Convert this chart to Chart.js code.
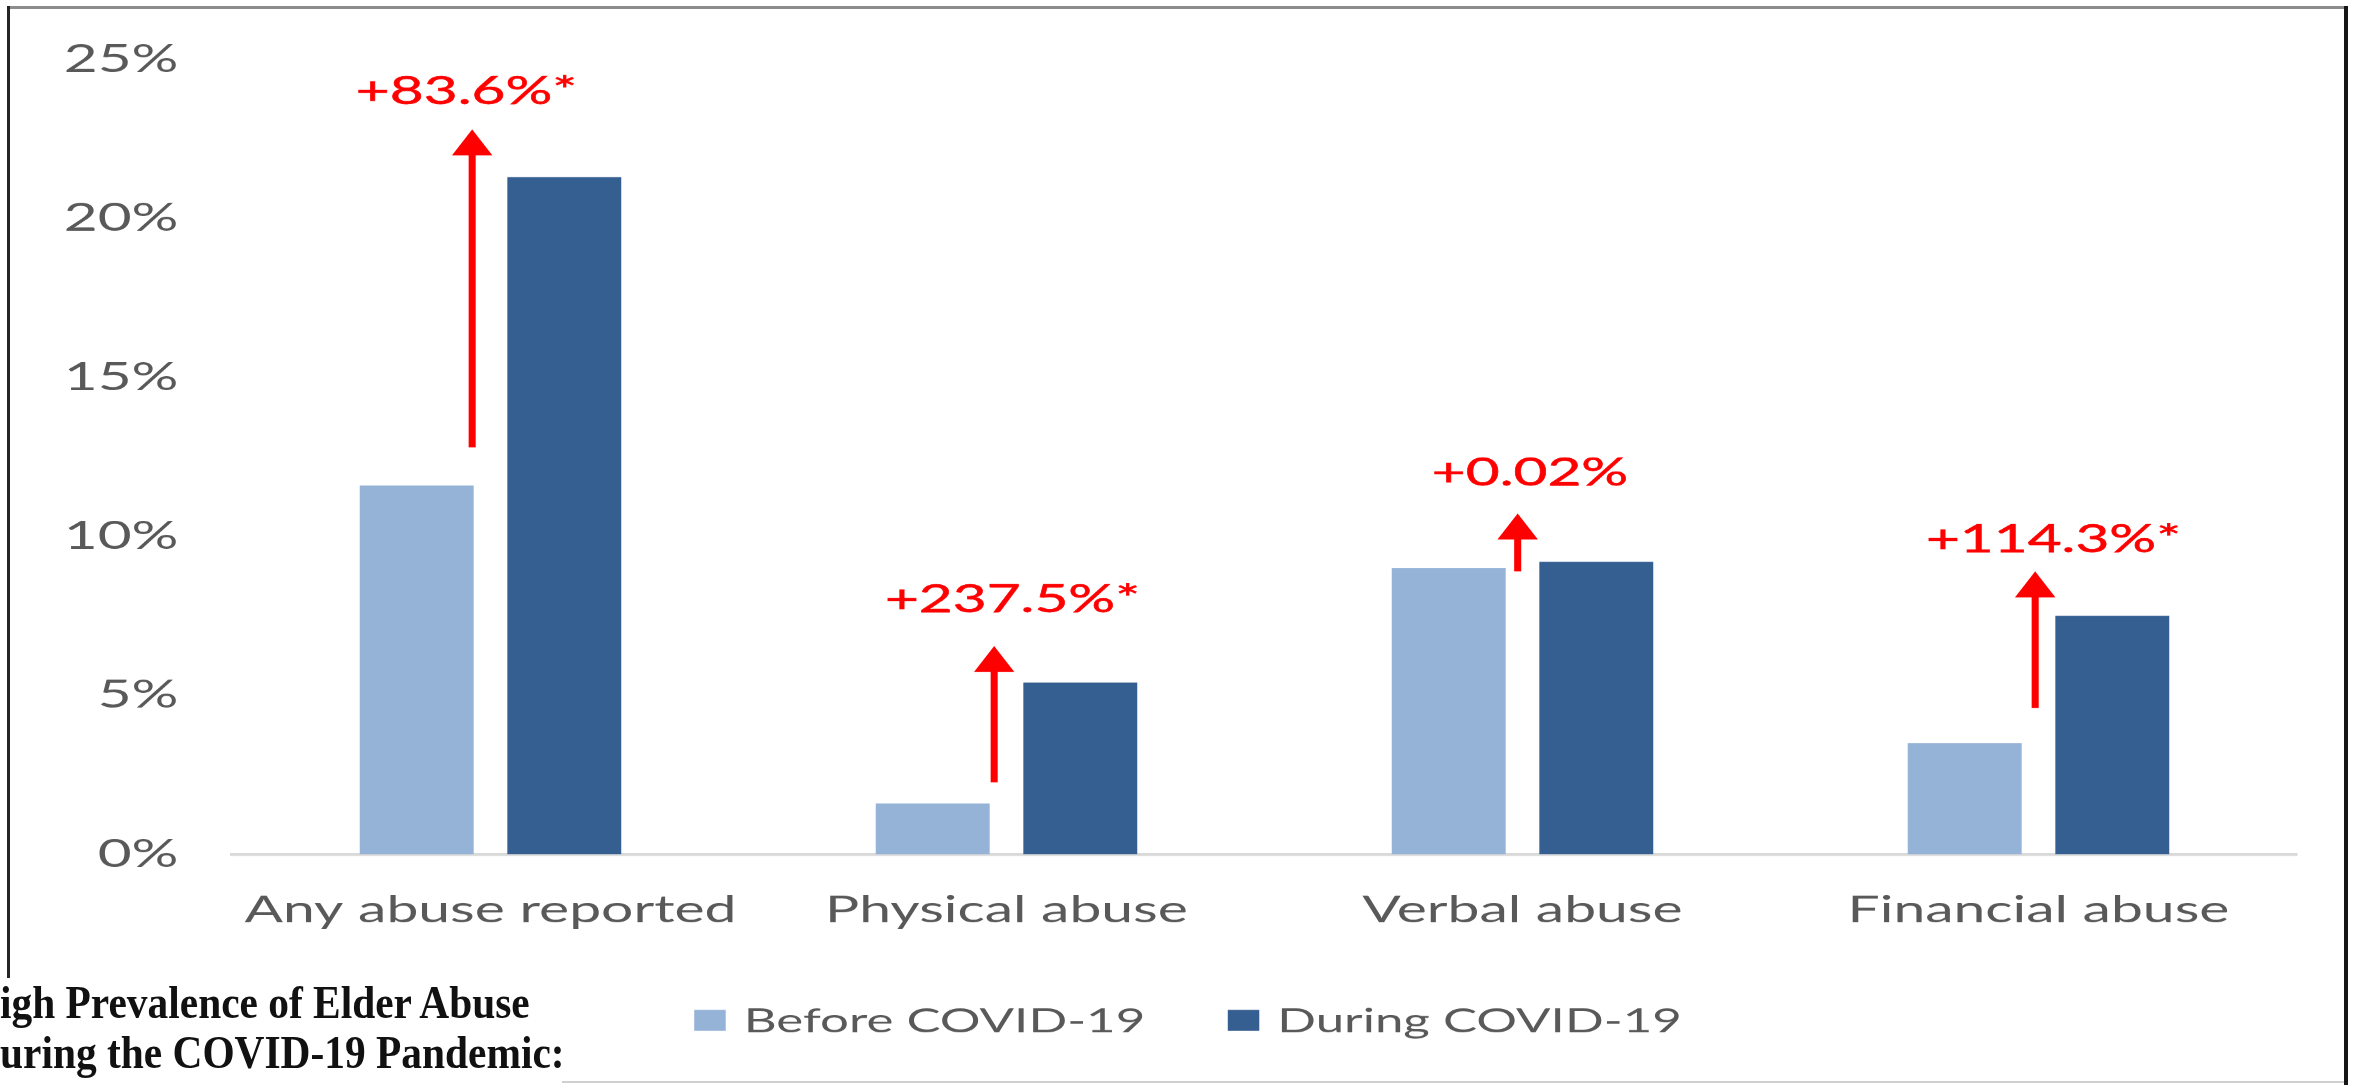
<!DOCTYPE html>
<html>
<head>
<meta charset="utf-8">
<script src="https://cdn.jsdelivr.net/npm/chart.js@4"></script>
<style>
  html, body { margin: 0; padding: 0; background: #fff; }
  body { width: 2361px; height: 1085px; position: relative; overflow: hidden; }
  /* the source picture is stretched sideways, so the chart is drawn narrow and widened */
  #wrap { position: absolute; left: 0; top: 0; width: 1574px; height: 1085px;
          transform: scaleX(1.5); transform-origin: 0 0; }
  .edge { position: absolute; }
  #title { position: absolute; left: 0; top: 978px; width: 562px; height: 107px;
           background: #fff; overflow: visible;
           font-family: "Liberation Serif", serif; font-weight: bold; font-size: 46px;
           line-height: 50px; color: #111; white-space: nowrap; }
  #title div { transform: scaleX(0.9); transform-origin: 0 0; }
</style>
</head>
<body>
<div id="wrap"><canvas id="chart"></canvas></div>

<div class="edge" style="left:8px; top:6px; width:2340px; height:3px; background:#8c8c8c;"></div>
<div class="edge" style="left:7px; top:6px; width:3px; height:976px; background:#262626;"></div>
<div class="edge" style="left:2344px; top:6px; width:4px; height:1079px; background:#161616;"></div>
<div class="edge" style="left:562px; top:1081px; width:1782px; height:2px; background:#d0d0d0;"></div>

<div id="title">
  <div>igh Prevalence of Elder Abuse</div>
  <div>uring the COVID-19 Pandemic:</div>
</div>

<script>
const categories = ["Any abuse reported", "Physical abuse", "Verbal abuse", "Financial abuse"];
const seriesNames = ["Before COVID-19", "During COVID-19"];
const beforeValues = [11.6, 1.6, 9.0, 3.5];
const duringValues = [21.3, 5.4, 9.2, 7.5];
const yTicks = [0, 5, 10, 15, 20, 25];

// red change labels and arrows, in percent units of the y axis
const changeLabels = ["+83.6%*", "+237.5%*", "+0.02%", "+114.3%*"];
const labelLevels = [24.0, 8.0, 12.0, 9.9];
const arrowFrom = [12.8, 2.26, 8.9, 4.6];
const arrowTo = [22.8, 6.55, 10.72, 8.9];

const lightBlue = "#95b3d7";
const darkBlue = "#365f91";
const textGray = "#595959";
const red = "#ff0000";
// small nudges (canvas px) seen in the picture
const labelShift = [-16, 4, 5, 10];
const arrowShift = [-1, 3, 8, 9];

Chart.defaults.font.family = "Lato, 'Open Sans', sans-serif";
Chart.defaults.color = textGray;

const changePlugin = {
  id: "changeArrows",
  afterDatasetsDraw(chart) {
    const { ctx } = chart;
    const yScale = chart.scales.y;
    const xScale = chart.scales.x;
    const before = chart.getDatasetMeta(0).data;
    ctx.save();
    ctx.fillStyle = red;
    ctx.strokeStyle = red;
    categories.forEach(function (cat, i) {
      const bar = before[i];
      const ax = bar.x + bar.width / 2 + arrowShift[i];
      const y0 = yScale.getPixelForValue(arrowFrom[i]);
      const y1 = yScale.getPixelForValue(arrowTo[i]);
      const headH = 26;
      const headW = 13.5;
      ctx.lineWidth = 4.7;
      ctx.beginPath();
      ctx.moveTo(ax, y0);
      ctx.lineTo(ax, y1 + headH - 2);
      ctx.stroke();
      ctx.beginPath();
      ctx.moveTo(ax, y1);
      ctx.lineTo(ax + headW, y1 + headH);
      ctx.lineTo(ax - headW, y1 + headH);
      ctx.closePath();
      ctx.fill();

      // text a touch heavier, like the blurred original
      const tx = xScale.getPixelForValue(i) + labelShift[i];
      const ty = yScale.getPixelForValue(labelLevels[i]);
      ctx.font = "39px Lato, 'Open Sans', sans-serif";
      ctx.textAlign = "center";
      ctx.textBaseline = "middle";
      ctx.lineWidth = 0.5;
      ctx.fillText(changeLabels[i], tx, ty);
      ctx.strokeText(changeLabels[i], tx, ty);
    });
    ctx.restore();
  },
};

const legendPlugin = {
  id: "flatLegend",
  afterDraw(chart) {
    const { ctx } = chart;
    const box = 21;
    const gapText = 12;
    const gapItem = 55;
    const y = 1020;
    ctx.save();
    ctx.font = "34px Lato, 'Open Sans', sans-serif";
    ctx.textBaseline = "middle";
    ctx.textAlign = "left";
    const widths = seriesNames.map((n) => ctx.measureText(n).width);
    const total = widths.reduce((a, w) => a + box + gapText + w, 0) + gapItem;
    let x = 792 - total / 2;
    chart.data.datasets.forEach(function (ds, i) {
      ctx.fillStyle = ds.backgroundColor;
      ctx.fillRect(x, y - box / 2, box, box);
      x += box + gapText;
      ctx.fillStyle = textGray;
      ctx.fillText(ds.label, x, y + 1);
      x += widths[i] + gapItem;
    });
    ctx.restore();
  },
};

new Chart(document.getElementById("chart"), {
  type: "bar",
  data: {
    labels: categories,
    datasets: [
      { label: seriesNames[0], data: beforeValues, backgroundColor: lightBlue,
        categoryPercentage: 0.572, barPercentage: 0.772 },
      { label: seriesNames[1], data: duringValues, backgroundColor: darkBlue,
        categoryPercentage: 0.572, barPercentage: 0.772 },
    ],
  },
  options: {
    responsive: true,
    maintainAspectRatio: false,
    animation: false,
    devicePixelRatio: 1.5,
    layout: { padding: { top: 56, right: 43, bottom: 121, left: 0 } },
    plugins: { legend: { display: false }, tooltip: { enabled: false } },
    scales: {
      x: {
        grid: { display: false, drawTicks: false },
        border: { display: true, color: "#d9d9d9", width: 3 },
        ticks: { font: { size: 38 }, color: textGray, padding: 33, maxRotation: 0 },
        afterFit(scale) { scale.height = 110; },
      },
      y: {
        min: 0,
        max: 25,
        afterBuildTicks(scale) { scale.ticks = yTicks.map((v) => ({ value: v })); },
        grid: { display: false, drawTicks: false },
        border: { display: false },
        ticks: { font: { size: 39 }, color: textGray, padding: 36, callback: (v) => v + "%" },
        afterFit(scale) { scale.width = 155; },
      },
    },
  },
  plugins: [changePlugin, legendPlugin],
});
</script>
</body>
</html>
